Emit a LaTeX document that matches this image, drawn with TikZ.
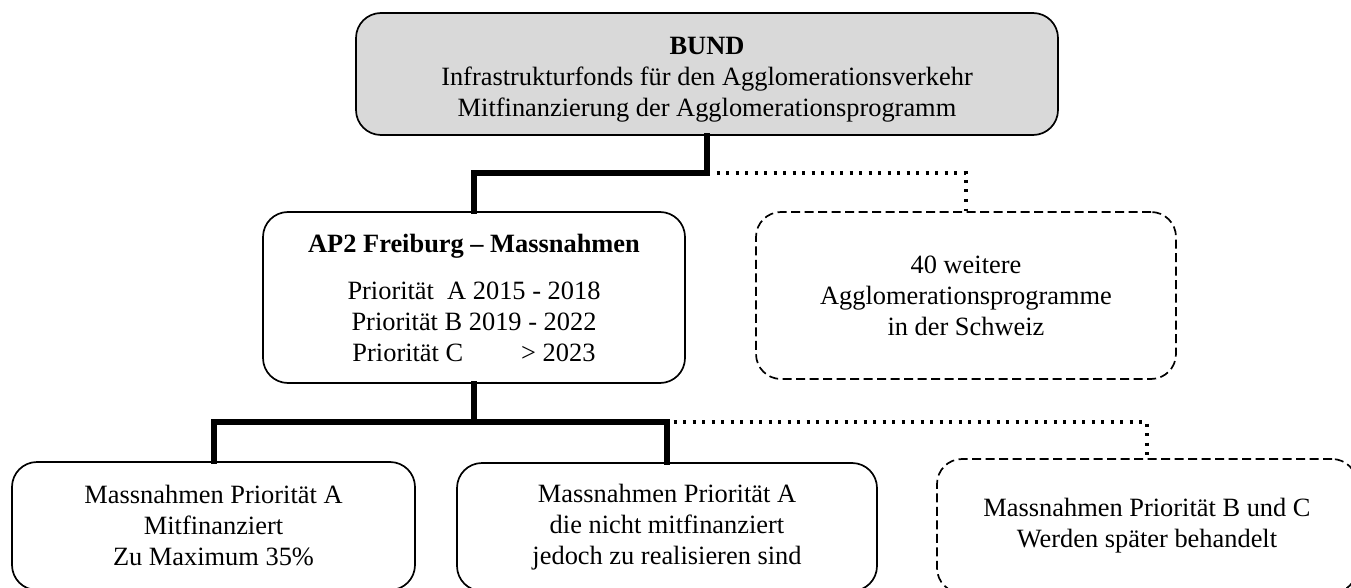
\documentclass[tikz,border=0pt]{standalone}
\usepackage{fontspec}
\setmainfont{Liberation Serif}
\definecolor{boxgray}{HTML}{D9D9D9}
\tikzset{
  box/.style={draw=black, line width=1.7pt, rounded corners=25pt, align=center,
    inner sep=0pt, font=\fontsize{26.4}{31}\selectfont},
  dashbox/.style={box, dash pattern=on 9pt off 4.5pt},
  label/.style={align=center, inner sep=0pt, font=\fontsize{26.4}{31}\selectfont},
  thickline/.style={line width=6pt, line join=miter, line cap=rect},
  dotline/.style={line width=3.4pt, dash pattern=on 3pt off 6.5pt},
}
\begin{document}
\begin{tikzpicture}[x=1pt, y=-1pt]
\useasboundingbox (0,0) rectangle (1351,588);
% boxes
\node[box, fill=boxgray, minimum width=702pt, minimum height=122pt] (bund) at (707,74) {};
\node[label] (bundtext) at ([yshift=-6pt]bund.center)
  {\textbf{BUND}\\ Infrastrukturfonds für den Agglomerationsverkehr\\ Mitfinanzierung der Agglomerationsprogramm};
\node[box, minimum width=422pt, minimum height=171pt] (ap2) at (474,297.5)
  {\textbf{AP2 Freiburg – Massnahmen}\\[16pt] Priorität\ \ A 2015 - 2018\\ Priorität B 2019 - 2022\\ Priorität C\hspace{58pt}> 2023};
\node[dashbox, minimum width=420pt, minimum height=167pt] (other) at (966,295.5)
  {40 weitere\\ Agglomerationsprogramme\\ in der Schweiz};
\node[box, minimum width=403pt, minimum height=128pt] (ma) at (213.5,526)
  {Massnahmen Priorität A\\ Mitfinanziert\\ Zu Maximum 35\%};
\node[box, minimum width=420pt, minimum height=128pt] (man) at (667,527)
  {Massnahmen Priorität A\\ die nicht mitfinanziert\\ jedoch zu realisieren sind};
\node[dashbox, minimum width=420pt, minimum height=134pt] (mbc) at (1147,526)
  {Massnahmen Priorität B und C\\ Werden später behandelt};
% junctions
\coordinate (j1) at (bund.south |- 0,173);
\coordinate (j2) at (ap2.south |- 0,422);
% dotted connectors
\draw[dotline] (j1) -| (other.north);
\draw[dotline] (j2) -| (mbc.north);
% thick connectors
\draw[thickline] (bund.south) -- (j1) -| (ap2.north);
\draw[thickline] (ap2.south) -- (j2) -| (ma.north);
\draw[thickline] (j2) -| (man.north);
\end{tikzpicture}
\end{document}
